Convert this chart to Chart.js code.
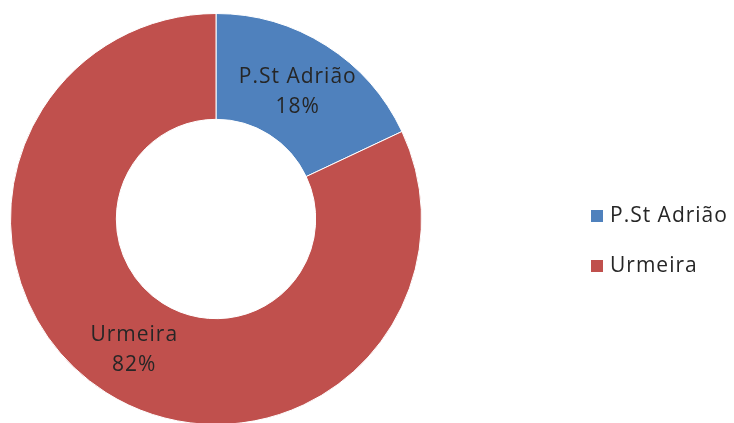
<!DOCTYPE html>
<html>
<head>
<meta charset="utf-8">
<script src="https://cdn.jsdelivr.net/npm/chart.js@4/dist/chart.umd.min.js"></script>
<style>
  html, body { margin: 0; padding: 0; background: #fff; overflow: hidden; }
  #wrap { position: relative; width: 734px; height: 430px; }
</style>
</head>
<body>
<div id="wrap"><canvas id="donutChart"></canvas></div>
<script>
// dados do gráfico
const categories = ['P.St Adrião', 'Urmeira'];
const shares = [18, 82];
const sliceColors = ['#4F81BD', '#C0504D'];

const FONT = '"Open Sans", "DejaVu Sans", sans-serif';
const TEXT_COLOR = '#262626';

// === RÓTULOS DENTRO DAS FATIAS ===
const sliceLabels = {
  id: 'sliceLabels',
  afterDatasetsDraw(chart) {
    const ctx = chart.ctx;
    const meta = chart.getDatasetMeta(0);
    const data = chart.data.datasets[0].data;
    const total = data.reduce((a, b) => a + b, 0);
    ctx.save();
    ctx.font = '21px ' + FONT;
    ctx.letterSpacing = '1px';
    ctx.fillStyle = TEXT_COLOR;
    ctx.textAlign = 'center';
    ctx.textBaseline = 'middle';
    meta.data.forEach((arc, i) => {
      const pos = arc.tooltipPosition();
      const pct = Math.round(data[i] / total * 100) + '%';
      ctx.fillText(chart.data.labels[i], pos.x, pos.y - 13);
      ctx.fillText(pct, pos.x, pos.y + 17);
    });
    ctx.restore();
  }
};

// === LEGENDA À DIREITA ===
const sideLegend = {
  id: 'sideLegend',
  afterDraw(chart) {
    const ctx = chart.ctx;
    const colors = chart.data.datasets[0].backgroundColor;
    ctx.save();
    ctx.font = '21px ' + FONT;
    ctx.letterSpacing = '1px';
    ctx.textBaseline = 'middle';
    ctx.textAlign = 'left';
    chart.data.labels.forEach((label, i) => {
      const y = 216 + i * 50;
      ctx.fillStyle = colors[i];
      ctx.fillRect(591, y - 6, 12, 12);
      ctx.fillStyle = TEXT_COLOR;
      ctx.fillText(label, 610, y);
    });
    ctx.restore();
  }
};

const ctxDonut = document.getElementById('donutChart').getContext('2d');
new Chart(ctxDonut, {
  type: 'doughnut',
  data: {
    labels: categories,
    datasets: [{
      data: shares,
      backgroundColor: sliceColors,
      borderColor: '#ffffff',
      borderWidth: 1
    }]
  },
  options: {
    responsive: true,
    maintainAspectRatio: false,
    animation: false,
    cutout: '48.5%',
    layout: { padding: { left: 10, top: 13, right: 312, bottom: 5 } },
    plugins: {
      legend: { display: false },
      tooltip: { enabled: false }
    }
  },
  plugins: [sliceLabels, sideLegend]
});
</script>
</body>
</html>
